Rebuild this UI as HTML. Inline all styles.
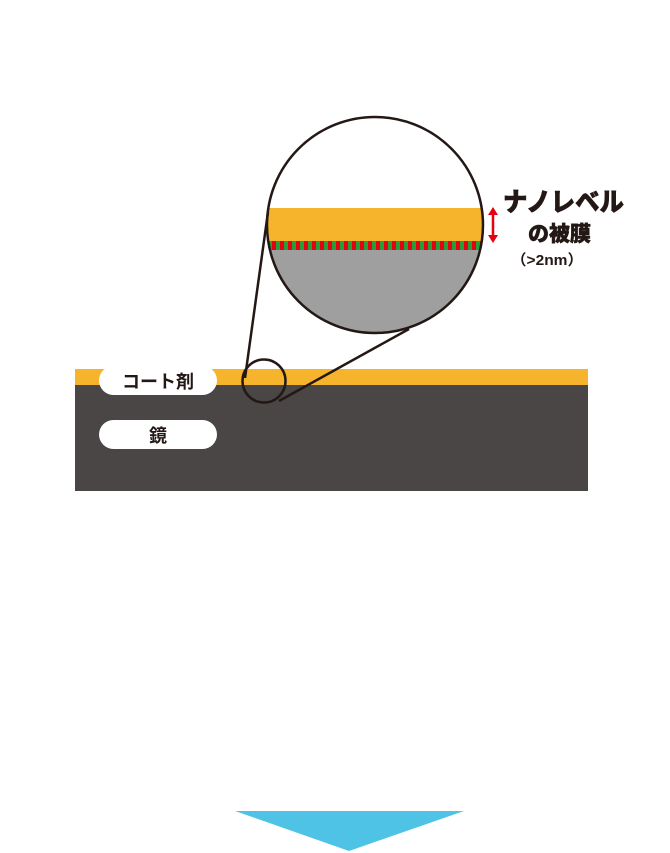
<!DOCTYPE html>
<html><head><meta charset="utf-8"><style>
html,body{margin:0;padding:0;background:#fff;width:670px;height:853px;overflow:hidden}
svg{display:block}
</style></head><body>
<svg width="670" height="853" viewBox="0 0 670 853" xmlns="http://www.w3.org/2000/svg">
<defs>
<clipPath id="c"><circle cx="375" cy="225" r="108"/></clipPath>
<pattern id="st" width="8" height="10" patternUnits="userSpaceOnUse">
<rect x="0" y="0" width="4" height="10" fill="#e60012"/><rect x="4" y="0" width="4" height="10" fill="#22a03a"/>
</pattern>
</defs>
<rect x="75" y="369" width="513" height="17" fill="#f6b42d"/>
<rect x="75" y="385" width="513" height="106" fill="#4a4646"/>
<g clip-path="url(#c)">
<rect x="260" y="110" width="240" height="240" fill="#fff"/>
<rect x="260" y="208" width="240" height="34" fill="#f6b42d"/>
<rect x="260" y="241" width="240" height="9" fill="url(#st)"/>
<rect x="260" y="250" width="240" height="100" fill="#9f9f9f"/>
</g>
<circle cx="375" cy="225" r="108" fill="none" stroke="#231815" stroke-width="2.5"/>
<line x1="268" y1="212" x2="245" y2="378" stroke="#231815" stroke-width="2.5"/>
<line x1="409" y1="329" x2="279" y2="401" stroke="#231815" stroke-width="2.5"/>
<circle cx="264" cy="381" r="21.5" fill="none" stroke="#231815" stroke-width="2.5"/>
<line x1="493" y1="213" x2="493" y2="237" stroke="#e60012" stroke-width="2.5"/>
<polygon points="493,207 488,215 498,215" fill="#e60012"/>
<polygon points="493,243 488,235 498,235" fill="#e60012"/>
<text x="503" y="211" textLength="121" lengthAdjust="spacingAndGlyphs" font-family="Liberation Sans,'Noto Sans CJK JP',sans-serif" font-weight="900" font-size="26" fill="#231815" stroke="#231815" stroke-width="0.6">ナノレベル</text>
<text x="528" y="241" font-family="Liberation Sans,'Noto Sans CJK JP',sans-serif" font-weight="900" font-size="21" fill="#231815" stroke="#231815" stroke-width="0.5">の被膜</text>
<text x="511" y="265" textLength="72" lengthAdjust="spacingAndGlyphs" font-family="Liberation Sans,'Noto Sans CJK JP',sans-serif" font-weight="bold" font-size="15" fill="#231815">（&gt;2nm）</text>
<rect x="99" y="366" width="118" height="29" rx="14.5" fill="#fff"/>
<text x="158" y="388" text-anchor="middle" font-family="Liberation Sans,'Noto Sans CJK JP',sans-serif" font-weight="bold" font-size="18" fill="#231815">コート剤</text>
<rect x="99" y="420" width="118" height="29" rx="14.5" fill="#fff"/>
<text x="158" y="442" text-anchor="middle" font-family="Liberation Sans,'Noto Sans CJK JP',sans-serif" font-weight="bold" font-size="18" fill="#231815">鏡</text>
<polygon points="235,811 464,811 349,851" fill="#4fc3e6"/>
</svg>
</body></html>
